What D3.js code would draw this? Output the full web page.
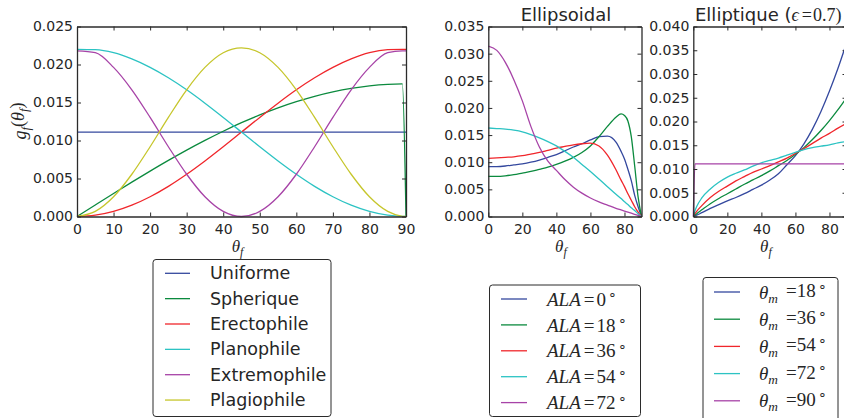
<!DOCTYPE html>
<html>
<head>
<meta charset="utf-8">
<script src="https://cdn.jsdelivr.net/npm/d3@7"></script>
<style>
  body { margin: 0; background: #fff; }
  svg text { fill: #262626; }
</style>
</head>
<body>
<div id="chart"></div>
<script>
// ---- panel 1 : classic leaf angle distributions ----
var thetaA = [0, 5, 10, 15, 20, 25, 30, 35, 40, 45, 50, 55, 60, 65, 70, 75, 80, 85, 89, 90];
var uniforme = [0.0111, 0.0111, 0.0111, 0.0111, 0.0111, 0.0111, 0.0111, 0.0111, 0.0111, 0.0111, 0.0111, 0.0111, 0.0111, 0.0111, 0.0111, 0.0111, 0.0111, 0.0111, 0.0111, 0.0111];
var spherique = [0, 0.00152, 0.00303, 0.00452, 0.00597, 0.00738, 0.00873, 0.01001, 0.01122, 0.01234, 0.01337, 0.0143, 0.01511, 0.01582, 0.0164, 0.01686, 0.01719, 0.01739, 0.01745, 0];
var erectophile = [0, 0.00017, 0.00067, 0.00149, 0.0026, 0.00397, 0.00556, 0.00731, 0.00918, 0.01111, 0.01304, 0.01491, 0.01667, 0.01825, 0.01962, 0.02073, 0.02155, 0.02195, 0.02200, 0.02200];
var planophile = [0.02200, 0.02195, 0.02155, 0.02073, 0.01962, 0.01825, 0.01667, 0.01491, 0.01304, 0.01111, 0.00918, 0.00731, 0.00556, 0.00397, 0.0026, 0.00149, 0.00067, 0.00017, 0.00001, 0];
var extremophile = [0.0218, 0.02155, 0.01962, 0.01667, 0.01304, 0.00918, 0.00556, 0.0026, 0.00067, 0, 0.00067, 0.0026, 0.00556, 0.00918, 0.01304, 0.01667, 0.01962, 0.02155, 0.0218, 0.0218];
var plagiophile = [0, 0.00067, 0.0026, 0.00556, 0.00918, 0.01304, 0.01667, 0.01962, 0.02155, 0.02220, 0.02155, 0.01962, 0.01667, 0.01304, 0.00918, 0.00556, 0.0026, 0.00067, 0.00003, 0];
var namesA = ["Uniforme", "Spherique", "Erectophile", "Planophile", "Extremophile", "Plagiophile"];

// ---- panel 2 : ellipsoidal ----
var thetaB = [0, 5, 10, 15, 20, 25, 30, 35, 40, 45, 50, 55, 60, 65, 70, 75, 78, 80, 82, 84, 86, 88, 90];
var ala0  = [0.0092, 0.0092, 0.0093, 0.0095, 0.0097, 0.0100, 0.0104, 0.0109, 0.0114, 0.0121, 0.0128, 0.0134, 0.0141, 0.0147, 0.0148, 0.0137, 0.0120, 0.0106, 0.0087, 0.0066, 0.0039, 0.0018, 0];
var ala18 = [0.0074, 0.0074, 0.0075, 0.0077, 0.0080, 0.0083, 0.0087, 0.0091, 0.0096, 0.0102, 0.0109, 0.0118, 0.0130, 0.0147, 0.0166, 0.0183, 0.0189, 0.0186, 0.0176, 0.0147, 0.0093, 0.0036, 0];
var ala36 = [0.0107, 0.0108, 0.0109, 0.0110, 0.0112, 0.0115, 0.0118, 0.0122, 0.0126, 0.0129, 0.0132, 0.0134, 0.0135, 0.0130, 0.0113, 0.0086, 0.0067, 0.0055, 0.0042, 0.0030, 0.0018, 0.0008, 0];
var ala54 = [0.0163, 0.0162, 0.0161, 0.0159, 0.0156, 0.0151, 0.0145, 0.0138, 0.0130, 0.0120, 0.0109, 0.0096, 0.0083, 0.0069, 0.0055, 0.0041, 0.0033, 0.0027, 0.0022, 0.0016, 0.0011, 0.0005, 0];
var ala72 = [0.0314, 0.0306, 0.0284, 0.0252, 0.0213, 0.0166, 0.0128, 0.0102, 0.0085, 0.0068, 0.0054, 0.0043, 0.0034, 0.0027, 0.0021, 0.0015, 0.0012, 0.0010, 0.0008, 0.0006, 0.0004, 0.0002, 0];
var alaLabels = ["0", "18", "36", "54", "72"];

// ---- panel 3 : elliptique (eps = 0.7) ----
var thetaC = [0, 1, 2, 5, 10, 15, 20, 25, 30, 35, 40, 45, 50, 55, 60, 65, 70, 75, 80, 85, 90];
var tm18 = [0, 0.0002, 0.0003, 0.0008, 0.0017, 0.0025, 0.0033, 0.0040, 0.0048, 0.0057, 0.0066, 0.0077, 0.0090, 0.0109, 0.0128, 0.0153, 0.0184, 0.0221, 0.0264, 0.0312, 0.0365];
var tm36 = [0, 0.0003, 0.0006, 0.0014, 0.0027, 0.0038, 0.0048, 0.0058, 0.0068, 0.0077, 0.0086, 0.0096, 0.0107, 0.0118, 0.0131, 0.0145, 0.0162, 0.0181, 0.0202, 0.0225, 0.0250];
var tm54 = [0, 0.0006, 0.0011, 0.0023, 0.0040, 0.0053, 0.0064, 0.0075, 0.0084, 0.0093, 0.0100, 0.0107, 0.0115, 0.0123, 0.0133, 0.0143, 0.0154, 0.0165, 0.0175, 0.0186, 0.0196];
var tm72 = [0, 0.0012, 0.0021, 0.0039, 0.0058, 0.0072, 0.0083, 0.0091, 0.0098, 0.0106, 0.0113, 0.0118, 0.0123, 0.0129, 0.0135, 0.0141, 0.0145, 0.0148, 0.0151, 0.0155, 0.0158];
var tm90 = [0, 0.0111, 0.0111, 0.0111, 0.0111, 0.0111, 0.0111, 0.0111, 0.0111, 0.0111, 0.0111, 0.0111, 0.0111, 0.0111, 0.0111, 0.0111, 0.0111, 0.0111, 0.0111, 0.0111, 0.0111];
var tmLabels = ["18", "36", "54", "72", "90"];

// ticks
var xTicksA = [0, 10, 20, 30, 40, 50, 60, 70, 80, 90];
var xTicksBC = [0, 20, 40, 60, 80];
var yTicksA = [0, 0.005, 0.010, 0.015, 0.020, 0.025];
var yTicksB = [0, 0.005, 0.010, 0.015, 0.020, 0.025, 0.030, 0.035];
var yTicksC = [0, 0.005, 0.010, 0.015, 0.020, 0.025, 0.030, 0.035, 0.040];

var colors = ["#34489e", "#0b8a3e", "#f0262b", "#2cc3c3", "#a743a7", "#c6c62c"];

var width = 844, height = 418;
var plotTop = 26.5, plotBottom = 216.5;

var svg = d3.select("#chart")
    .append("svg")
    .attr("width", width)
    .attr("height", height)
    .style("font-family", "'DejaVu Sans', sans-serif");

function mathTheta(sel, sub) {
    // italic theta with a subscript
    sel.append("tspan").attr("font-style", "italic").text("θ");
    sel.append("tspan").attr("font-style", "italic").attr("font-size", "0.7em").attr("dy", "0.3em").text(sub);
}

function drawPanel(x0, x1, ymax, xt, yt, theta, series) {
    var x = d3.scaleLinear().domain([0, 90]).range([x0, x1]);
    var y = d3.scaleLinear().domain([0, ymax]).range([plotBottom, plotTop]);

    var g = svg.append("g");

    var line = d3.line()
        .x(function(d) { return x(d[0]); })
        .y(function(d) { return y(d[1]); })
        .curve(d3.curveMonotoneX);

    series.forEach(function(s, i) {
        g.append("path")
            .datum(theta.map(function(t, j) { return [t, s[j]]; }))
            .attr("fill", "none")
            .attr("stroke", colors[i])
            .attr("stroke-width", 1.3)
            .attr("d", line);
    });

    var fmt = d3.format(".3f");
    var axes = [
        g.append("g").attr("transform", "translate(0," + plotBottom + ")")
            .call(d3.axisBottom(x).tickValues(xt).tickSizeInner(-4).tickSizeOuter(0).tickPadding(7.5)),
        g.append("g").attr("transform", "translate(0," + plotTop + ")")
            .call(d3.axisTop(x).tickValues(xt).tickSizeInner(-4).tickSizeOuter(0).tickFormat("")),
        g.append("g").attr("transform", "translate(" + x0 + ",0)")
            .call(d3.axisLeft(y).tickValues(yt).tickSizeInner(-4).tickSizeOuter(0).tickPadding(4).tickFormat(fmt)),
        g.append("g").attr("transform", "translate(" + x1 + ",0)")
            .call(d3.axisRight(y).tickValues(yt).tickSizeInner(-4).tickSizeOuter(0).tickFormat(""))
    ];
    axes.forEach(function(a) {
        a.attr("font-size", 14).attr("font-family", "'DejaVu Sans', sans-serif");
        a.select(".domain").attr("stroke", "#2b2b2b").attr("stroke-width", 1.3);
        a.selectAll(".tick line").attr("stroke", "#2b2b2b");
        a.selectAll("text").attr("fill", "#262626");
    });

    // x label
    var xl = svg.append("text")
        .attr("x", (x0 + x1) / 2 - 4)
        .attr("y", 252)
        .attr("text-anchor", "middle")
        .attr("font-family", "'Liberation Serif', serif")
        .attr("font-size", 17);
    mathTheta(xl, "f");
    return g;
}

drawPanel(77, 406, 0.025, xTicksA, yTicksA, thetaA,
    [uniforme, spherique, erectophile, planophile, extremophile, plagiophile]);
drawPanel(488.3, 641.5, 0.035, xTicksBC, yTicksB, thetaB,
    [ala0, ala18, ala36, ala54, ala72]);
drawPanel(693.3, 846.5, 0.040, xTicksBC, yTicksC, thetaC,
    [tm18, tm36, tm54, tm72, tm90]);

// y label of first panel
var yl = svg.append("text")
    .attr("transform", "translate(26,121) rotate(-90)")
    .attr("text-anchor", "middle")
    .attr("font-family", "'Liberation Serif', serif")
    .attr("font-size", 18);
yl.append("tspan").attr("font-style", "italic").text("g");
yl.append("tspan").attr("font-style", "italic").attr("font-size", "0.7em").attr("dy", "0.3em").text("f");
yl.append("tspan").attr("dy", "-0.3em").text("(");
yl.append("tspan").attr("font-style", "italic").text("θ");
yl.append("tspan").attr("font-style", "italic").attr("font-size", "0.7em").attr("dy", "0.3em").text("f");
yl.append("tspan").attr("dy", "-0.3em").text(")");

// titles
svg.append("text")
    .attr("x", 566).attr("y", 21)
    .attr("text-anchor", "middle")
    .attr("font-size", 18)
    .text("Ellipsoidal");
var t2 = svg.append("text")
    .attr("x", 695).attr("y", 21)
    .attr("font-size", 18);
t2.append("tspan").text("Elliptique (");
t2.append("tspan").attr("font-family", "'Liberation Serif', serif").attr("font-style", "italic").text("ϵ");
t2.append("tspan").attr("font-family", "'Liberation Serif', serif").attr("dx", 3).text("=");
t2.append("tspan").attr("font-family", "'Liberation Serif', serif").attr("dx", 1).text("0.7)");

// legends
function legendBox(bx, by, bw, bh) {
    svg.append("rect")
        .attr("x", bx).attr("y", by)
        .attr("width", bw).attr("height", bh)
        .attr("rx", 3)
        .attr("fill", "#fff")
        .attr("stroke", "#2b2b2b")
        .attr("stroke-width", 1);
}

// legend 1
legendBox(153, 259.5, 178, 157);
namesA.forEach(function(n, i) {
    var yy = 273.3 + i * 25.35;
    svg.append("line").attr("x1", 165).attr("x2", 190).attr("y1", yy).attr("y2", yy)
        .attr("stroke", colors[i]).attr("stroke-width", 1.3);
    svg.append("text").attr("x", 210).attr("y", yy).attr("dy", "0.35em")
        .attr("font-size", 17.5).text(n);
});

// legend 2
legendBox(489.5, 285, 151, 131.5);
alaLabels.forEach(function(n, i) {
    var yy = 299 + i * 25.9;
    svg.append("line").attr("x1", 501).attr("x2", 527).attr("y1", yy).attr("y2", yy)
        .attr("stroke", colors[i]).attr("stroke-width", 1.3);
    var t = svg.append("text").attr("x", 547).attr("y", yy).attr("dy", "0.35em")
        .attr("font-family", "'Liberation Serif', serif").attr("font-size", 19);
    t.append("tspan").attr("font-style", "italic").text("ALA");
    t.append("tspan").attr("dx", 3).text("=");
    t.append("tspan").attr("dx", 2).text(n);
    t.append("tspan").attr("font-size", "0.75em").attr("dy", "-0.45em").attr("dx", 2).text("∘");
});

// legend 3
legendBox(703, 277.5, 135, 150);
tmLabels.forEach(function(n, i) {
    var yy = 292 + i * 27.2;
    svg.append("line").attr("x1", 714).attr("x2", 740).attr("y1", yy).attr("y2", yy)
        .attr("stroke", colors[i]).attr("stroke-width", 1.3);
    var t = svg.append("text").attr("x", 759).attr("y", yy).attr("dy", "0.35em")
        .attr("font-family", "'Liberation Serif', serif").attr("font-size", 19);
    t.append("tspan").attr("font-style", "italic").text("θ");
    t.append("tspan").attr("font-style", "italic").attr("font-size", "0.7em").attr("dy", "0.3em").text("m");
    t.append("tspan").attr("dy", "-0.3em").attr("dx", 8).text("=" + n);
    t.append("tspan").attr("font-size", "0.75em").attr("dy", "-0.45em").attr("dx", 2).text("∘");
});
</script>
</body>
</html>
